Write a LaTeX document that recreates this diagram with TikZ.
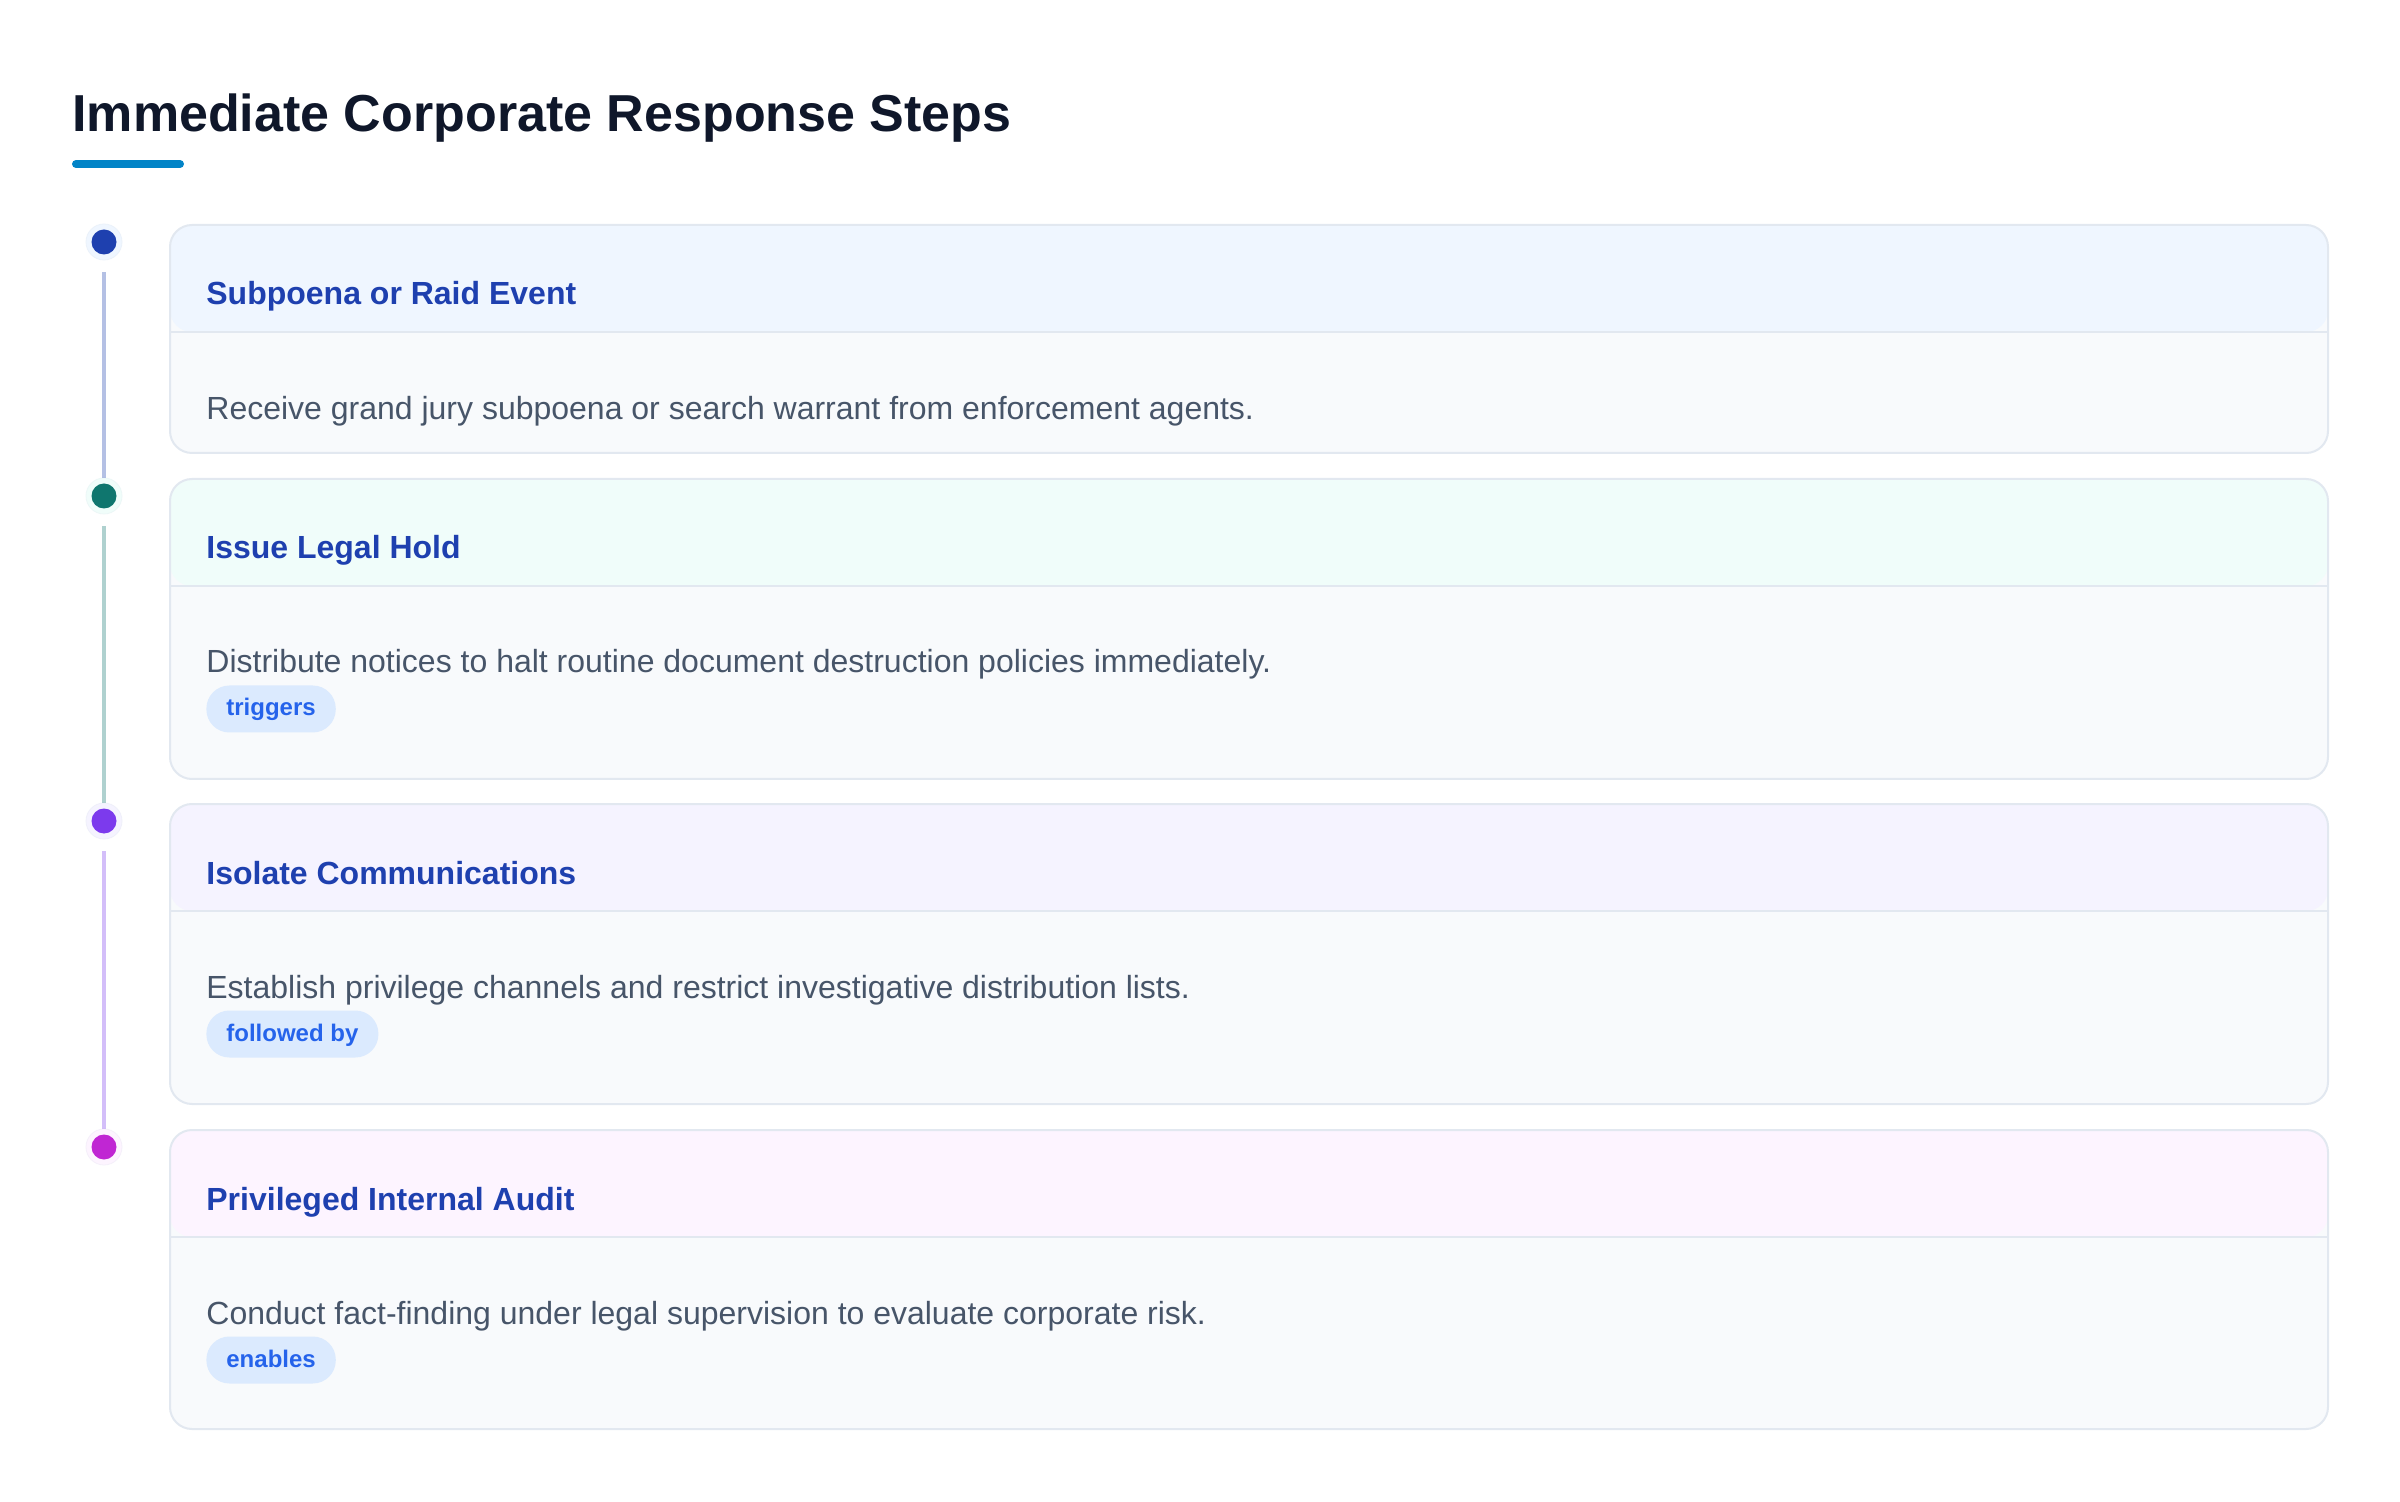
\documentclass[tikz,border=0pt]{standalone}
\usepackage{fontspec}
\setmainfont{Liberation Sans}
\usetikzlibrary{calc}
\definecolor{ttl}{HTML}{0F172A}
\definecolor{uline}{HTML}{0284C7}
\definecolor{cborder}{HTML}{E2E8F0}
\definecolor{cbody}{HTML}{F8FAFC}
\definecolor{hA}{HTML}{EFF6FF}
\definecolor{hB}{HTML}{F0FDFA}
\definecolor{hC}{HTML}{F5F3FF}
\definecolor{hD}{HTML}{FDF4FF}
\definecolor{ctitle}{HTML}{1E40AF}
\definecolor{ctext}{HTML}{475569}
\definecolor{tagbg}{HTML}{DBEAFE}
\definecolor{tagfg}{HTML}{2563EB}
\definecolor{dA}{HTML}{1E40AF}
\definecolor{dB}{HTML}{0F766E}
\definecolor{dC}{HTML}{7C3AED}
\definecolor{dD}{HTML}{C026D3}
\tikzset{
  card/.style 2 args={rectangle, rounded corners=11pt, draw=cborder, line width=1pt,
    fill=cbody, minimum width=1079pt, minimum height=#2, inner sep=0pt,
    path picture={\fill[#1] (path picture bounding box.north west) rectangle ([yshift=-53.5pt]path picture bounding box.north east);
      \draw[cborder, line width=1pt] ([yshift=-53.5pt]path picture bounding box.north west) -- ([yshift=-53.5pt]path picture bounding box.north east);}},
  cardtitle/.style={anchor=base west, inner sep=0pt, text=ctitle, font=\bfseries\fontsize{16}{19}\selectfont},
  cardtext/.style={anchor=base west, inner sep=0pt, text=ctext, font=\fontsize{16}{19}\selectfont},
  tagbox/.style={anchor=west, fill=tagbg, rounded corners=11.5pt, text=tagfg,
    font=\bfseries\fontsize{12}{14}\selectfont, inner xsep=10pt, inner ysep=5.25pt,
    text height=10pt, text depth=3pt},
  ring/.style={circle, minimum size=18pt, inner sep=0pt, fill=#1, draw=#1!70!cborder, line width=0.4pt},
  dotfill/.style={circle, minimum size=12.5pt, inner sep=0pt, fill=#1},
  tline/.style={draw=#1, draw opacity=0.33, line width=2pt},
}
\begin{document}
\begin{tikzpicture}[x=0.5pt,y=-0.5pt]
\useasboundingbox[fill=white] (0,0) rectangle (2400,1502);
% heading
\node[anchor=base west, inner sep=0pt, text=ttl, font=\bfseries\fontsize{26}{31}\selectfont] (title) at (72,132) {Immediate Corporate Response Steps};
\coordinate (ulA) at (76,164);
\coordinate (ulB) at (180,164);
\draw[uline, line width=4pt, line cap=round] (ulA) -- (ulB);
% cards
\node[card={hA}{114pt}, anchor=north west] (c1) at (169,224) {};
\node[card={hB}{150pt}, anchor=north west] (c2) at (169,478) {};
\node[card={hC}{150pt}, anchor=north west] (c3) at (169,803) {};
\node[card={hD}{149.5pt}, anchor=north west] (c4) at (169,1129) {};
% titles
\node[cardtitle] (t1) at (206,305) {Subpoena or Raid Event};
\node[cardtitle] (t2) at (206,559) {Issue Legal Hold};
\node[cardtitle] (t3) at (206,884) {Isolate Communications};
\node[cardtitle] (t4) at (206,1210) {Privileged Internal Audit};
% body
\node[cardtext] (b1) at (206,420) {Receive grand jury subpoena or search warrant from enforcement agents.};
\node[cardtext] (b2) at (206,673) {Distribute notices to halt routine document destruction policies immediately.};
\node[cardtext] (b3) at (206,998) {Establish privilege channels and restrict investigative distribution lists.};
\node[cardtext] (b4) at (206,1324) {Conduct fact-finding under legal supervision to evaluate corporate risk.};
% tags
\node[tagbox] (g2) at (206,709) {triggers};
\node[tagbox] (g3) at (206,1034) {followed by};
\node[tagbox] (g4) at (206,1360) {enables};
% timeline dots
\node[ring=hA] (d1) at (104,242) {};
\node[ring=hB] (d2) at (104,496) {};
\node[ring=hC] (d3) at (104,821) {};
\node[ring=hD] (d4) at (104,1147) {};
\node[dotfill=dA] (e1) at (d1) {};
\node[dotfill=dB] (e2) at (d2) {};
\node[dotfill=dC] (e3) at (d3) {};
\node[dotfill=dD] (e4) at (d4) {};
% connectors
\draw[tline=dA, shorten <=6pt] (d1.south) -- (d2.north);
\draw[tline=dB, shorten <=6pt] (d2.south) -- (d3.north);
\draw[tline=dC, shorten <=6pt] (d3.south) -- (d4.north);
\end{tikzpicture}
\end{document}
